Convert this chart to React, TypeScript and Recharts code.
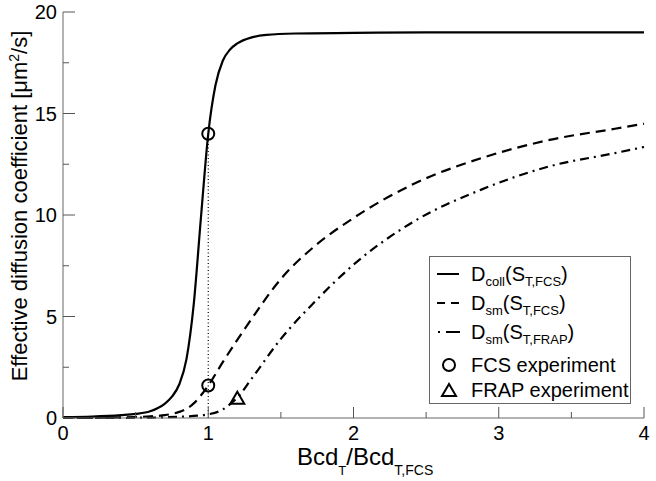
import React from 'react';
import { ComposedChart, Line, Scatter, XAxis, YAxis, Legend } from 'recharts';

// collective diffusion D_coll(S_T,FCS)
const collX = [0, 0.2, 0.4, 0.5, 0.6, 0.65, 0.7, 0.75, 0.8, 0.85, 0.9, 0.95, 1.0, 1.05, 1.1, 1.15, 1.2, 1.3, 1.4, 1.6, 2.0, 2.5, 3.0, 4.0];
const collY = [0.04, 0.07, 0.14, 0.2, 0.33, 0.48, 0.7, 1.05, 1.65, 2.9, 5.6, 9.9, 14.0, 16.4, 17.6, 18.15, 18.45, 18.75, 18.87, 18.94, 18.97, 19.0, 19.0, 19.0];

// single molecule D_sm(S_T,FCS)
const smFcsX = [0, 0.4, 0.5, 0.6, 0.7, 0.8, 0.85, 0.9, 0.95, 1.0, 1.1, 1.2, 1.3, 1.5, 1.73, 2.0, 2.42, 2.88, 3.35, 3.8, 4.0];
const smFcsY = [0, 0.03, 0.05, 0.08, 0.14, 0.3, 0.45, 0.72, 1.12, 1.6, 2.75, 3.85, 4.9, 6.85, 8.45, 9.85, 11.55, 12.8, 13.7, 14.25, 14.5];

// single molecule D_sm(S_T,FRAP)
const smFrapX = [0, 0.6, 0.8, 0.9, 1.0, 1.1, 1.15, 1.2, 1.3, 1.5, 1.73, 2.0, 2.42, 2.88, 3.35, 3.8, 4.0];
const smFrapY = [0, 0.02, 0.06, 0.1, 0.18, 0.42, 0.68, 1.0, 1.95, 3.9, 5.7, 7.55, 9.7, 11.25, 12.4, 13.05, 13.35];

// experiments
const fcsX = [1, 1];
const fcsY = [14, 1.6];
const frapX = [1.2];
const frapY = [1.0];

// dotted guide at x = 1
const guideX = [1, 1];
const guideY = [0, 14];

const xTicks = [0, 0.5, 1, 1.5, 2, 2.5, 3, 3.5, 4];
const yTicks = [0, 2.5, 5, 7.5, 10, 12.5, 15, 17.5, 20];

const FONT = '"Liberation Sans", Arial, sans-serif';
const FRAME = '#666';
const TICK = '#555';

const zip = (xs: number[], ys: number[]) => xs.map((x, i) => ({ x, y: ys[i] }));

const collData = zip(collX, collY);
const smFcsData = zip(smFcsX, smFcsY);
const smFrapData = zip(smFrapX, smFrapY);
const fcsData = zip(fcsX, fcsY);
const frapData = zip(frapX, frapY);
const guideData = zip(guideX, guideY);

const isMajor = (v: number) => Math.abs(v - Math.round(v)) < 1e-6;
const isMajorY = (v: number) => Math.abs(v / 5 - Math.round(v / 5)) < 1e-6;

function BottomTick({ x, y, payload }: any) {
  const major = isMajor(payload.value);
  return (
    <g>
      <line x1={x} y1={y} x2={x} y2={y - (major ? 11 : 6)} stroke={TICK} />
      {major && (
        <text x={x} y={y + 22} textAnchor="middle" fontSize={20} fontFamily={FONT} fill="#000">
          {payload.value}
        </text>
      )}
    </g>
  );
}

function TopTick({ x, y, payload }: any) {
  const major = isMajor(payload.value);
  return <line x1={x} y1={y} x2={x} y2={y + (major ? 11 : 6)} stroke={TICK} />;
}

function LeftTick({ x, y, payload }: any) {
  const major = isMajorY(payload.value);
  return (
    <g>
      <line x1={x} y1={y} x2={x + (major ? 12 : 6)} y2={y} stroke={TICK} />
      {major && (
        <text x={x - 6} y={y + 7} textAnchor="end" fontSize={20} fontFamily={FONT} fill="#000">
          {payload.value}
        </text>
      )}
    </g>
  );
}

function RightTick({ x, y, payload }: any) {
  const major = isMajorY(payload.value);
  return <line x1={x} y1={y} x2={x - (major ? 12 : 6)} y2={y} stroke={TICK} />;
}

function Circle({ cx, cy }: any) {
  return <circle cx={cx} cy={cy} r={6} fill="none" stroke="#000" strokeWidth={2} />;
}

function Triangle({ cx, cy }: any) {
  return (
    <polygon
      points={`${cx},${cy - 6} ${cx - 7},${cy + 6} ${cx + 7},${cy + 6}`}
      fill="none"
      stroke="#000"
      strokeWidth={2}
    />
  );
}

function XTitle() {
  return (
    <text x={297} y={465} fontSize={24} fontFamily={FONT} fill="#000">
      Bcd
      <tspan fontSize={13} dy={10}>T</tspan>
      <tspan dy={-10}>/Bcd</tspan>
      <tspan fontSize={14} dy={10}>T,FCS</tspan>
    </text>
  );
}

function YTitle() {
  return (
    <text
      x={27}
      y={206}
      transform="rotate(-90, 27, 206)"
      textAnchor="middle"
      fontSize={22}
      fontFamily={FONT}
      fill="#000"
    >
      Effective diffusion coefficient [μm<tspan fontSize={14} dy={-8}>2</tspan>
      <tspan dy={8}>/s]</tspan>
    </text>
  );
}

function LegendBox() {
  const label = (a: string, b: string) => (
    <>
      <tspan>D</tspan>
      <tspan fontSize={13} dy={5}>{a}</tspan>
      <tspan dy={-5}>(S</tspan>
      <tspan fontSize={13} dy={5}>{b}</tspan>
      <tspan dy={-5}>)</tspan>
    </>
  );
  return (
    <svg width={202} height={149} style={{ display: 'block' }}>
      <rect x={0.5} y={0.5} width={201} height={147} fill="#fff" stroke={FRAME} />
      <line x1={8} y1={18} x2={30} y2={18} stroke="#000" strokeWidth={2} />
      <line x1={8} y1={47} x2={30} y2={47} stroke="#000" strokeWidth={2} strokeDasharray="8 6" />
      <line x1={9} y1={76} x2={31} y2={76} stroke="#000" strokeWidth={2} strokeDasharray="2 6 14 20" />
      <circle cx={20} cy={109} r={6} fill="none" stroke="#000" strokeWidth={2} />
      <polygon points="20,128 13,140 27,140" fill="none" stroke="#000" strokeWidth={2} />
      <g fontSize={20} fontFamily={FONT} fill="#000">
        <text x={42} y={25}>{label('coll', 'T,FCS')}</text>
        <text x={42} y={54}>{label('sm', 'T,FCS')}</text>
        <text x={42} y={83}>{label('sm', 'T,FRAP')}</text>
        <text x={42} y={116}>FCS experiment</text>
        <text x={42} y={141}>FRAP experiment</text>
      </g>
    </svg>
  );
}

export default function App() {
  return (
    <div style={{ position: 'absolute', left: 0, top: 0, background: '#fff' }}>
      <ComposedChart width={656} height={481} margin={{ top: 12, right: 12, bottom: 0, left: 0 }}>
        <XAxis
          xAxisId="b"
          type="number"
          dataKey="x"
          domain={[0, 4]}
          ticks={xTicks}
          height={63}
          tickSize={0}
          tickMargin={0}
          tickLine={false}
          axisLine={{ stroke: FRAME }}
          tick={<BottomTick />}
          interval={0}
          label={{ content: () => <XTitle /> }}
        />
        <XAxis
          xAxisId="t"
          orientation="top"
          type="number"
          dataKey="x"
          domain={[0, 4]}
          ticks={xTicks}
          height={0}
          tickSize={0}
          tickMargin={0}
          tickLine={false}
          axisLine={{ stroke: FRAME }}
          tick={<TopTick />}
          interval={0}
        />
        <YAxis
          yAxisId="l"
          type="number"
          domain={[0, 20]}
          ticks={yTicks}
          width={63}
          tickSize={0}
          tickMargin={0}
          tickLine={false}
          axisLine={{ stroke: FRAME }}
          tick={<LeftTick />}
          interval={0}
          label={{ content: () => <YTitle /> }}
        />
        <YAxis
          yAxisId="r"
          orientation="right"
          type="number"
          domain={[0, 20]}
          ticks={yTicks}
          width={0}
          tickSize={0}
          tickMargin={0}
          tickLine={false}
          axisLine={{ stroke: FRAME }}
          tick={<RightTick />}
          interval={0}
        />
        <Line
          xAxisId="b"
          yAxisId="l"
          data={guideData}
          dataKey="y"
          type="linear"
          stroke="#000"
          strokeWidth={1.2}
          strokeDasharray="1 2.5"
          dot={false}
          isAnimationActive={false}
          legendType="none"
        />
        <Line
          xAxisId="b"
          yAxisId="l"
          data={collData}
          dataKey="y"
          type="monotone"
          stroke="#000"
          strokeWidth={2.2}
          dot={false}
          isAnimationActive={false}
        />
        <Line
          xAxisId="b"
          yAxisId="l"
          data={smFcsData}
          dataKey="y"
          type="monotone"
          stroke="#000"
          strokeWidth={2.2}
          strokeDasharray="10 6"
          dot={false}
          isAnimationActive={false}
        />
        <Line
          xAxisId="b"
          yAxisId="l"
          data={smFrapData}
          dataKey="y"
          type="monotone"
          stroke="#000"
          strokeWidth={2.2}
          strokeDasharray="9 5 2 5"
          dot={false}
          isAnimationActive={false}
        />
        <Scatter xAxisId="b" yAxisId="l" data={fcsData} dataKey="y" shape={<Circle />} isAnimationActive={false} />
        <Scatter xAxisId="b" yAxisId="l" data={frapData} dataKey="y" shape={<Triangle />} isAnimationActive={false} />
        <Legend
          layout="vertical"
          align="center"
          verticalAlign="middle"
          content={() => <LegendBox />}
          wrapperStyle={{ left: 429, top: 256, width: 202, height: 149 }}
        />
      </ComposedChart>
    </div>
  );
}
